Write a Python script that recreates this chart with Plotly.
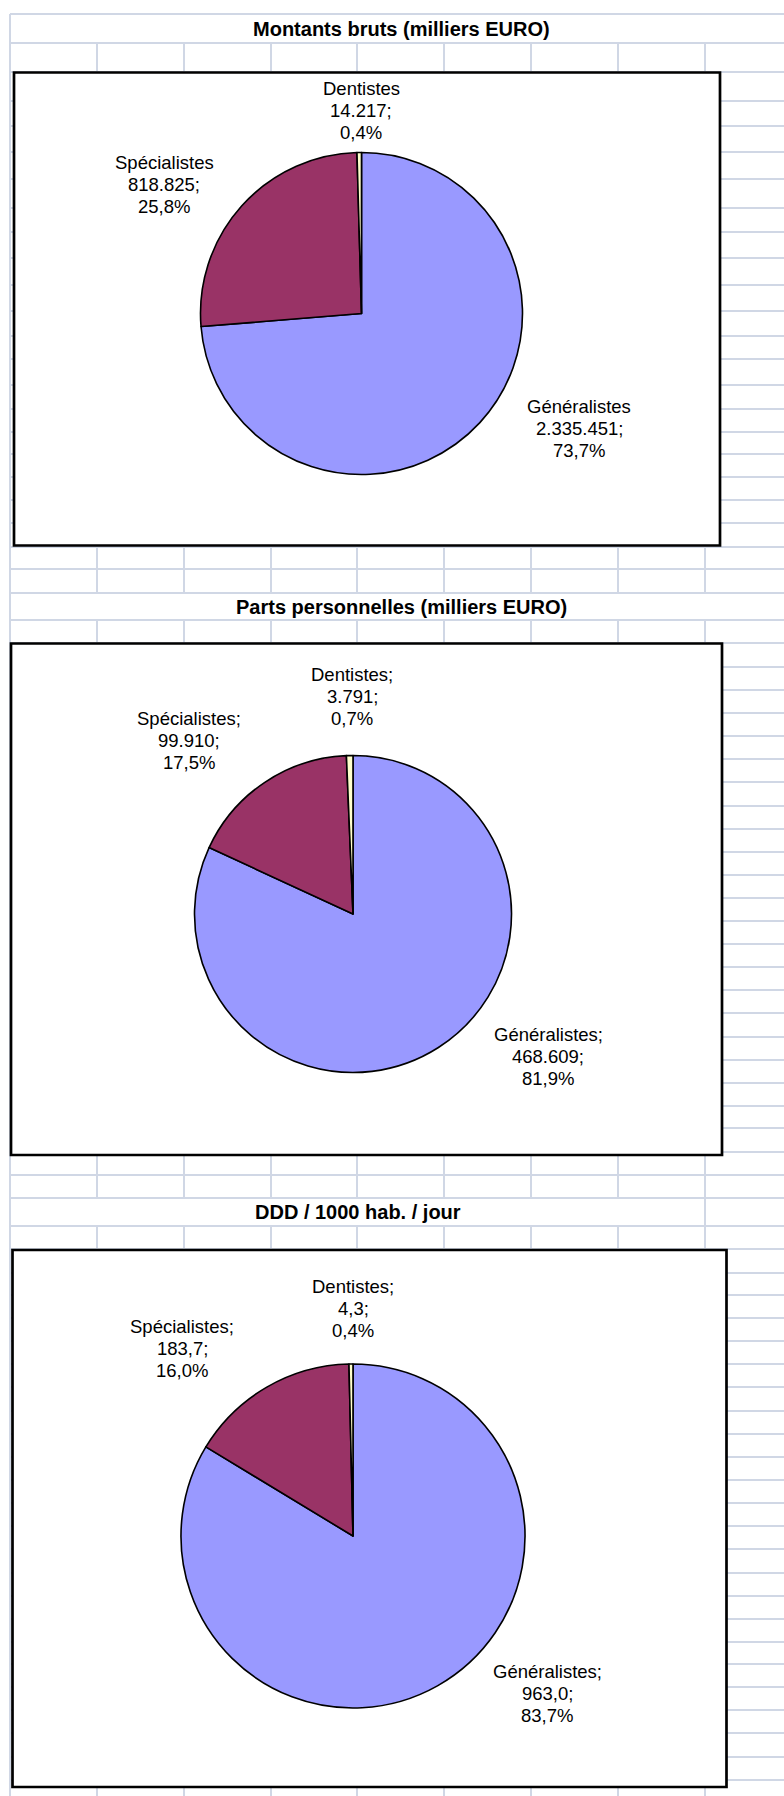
import plotly.graph_objects as go

# ---------------- data ----------------
categories = ["Généralistes", "Spécialistes", "Dentistes"]
montants_bruts = [2335451, 818825, 14217]          # milliers EURO
parts_personnelles = [468609, 99910, 3791]          # milliers EURO
ddd_1000_hab_jour = [963.0, 183.7, 4.3]             # DDD / 1000 hab. / jour
chart_titles = ["Montants bruts (milliers EURO)",
                "Parts personnelles (milliers EURO)",
                "DDD / 1000 hab. / jour"]
slice_colors = ["#9999FF", "#993366", "#FFFFCC"]

# ---------------- page geometry (pixels) ----------------
W, H = 784, 1796


def px(x):
    return x / W


def py(y):
    return 1 - y / H


def fmt_int(v):
    return f"{int(round(v)):,}".replace(",", ".")


def fmt_dec(v):
    return f"{v:.1f}".replace(".", ",")


def fmt_pct(v, total):
    return f"{100 * v / total:.1f}".replace(".", ",") + "%"


charts = [
    dict(values=montants_bruts, fmt=fmt_int, name_sep="",
         box=(14, 72.5, 720, 545.5), center=(361.5, 313.5), r=161,
         title_xy=(401, 28.5),
         label_xy=[(579, 429), (164, 185), (361, 110)]),
    dict(values=parts_personnelles, fmt=fmt_int, name_sep=";",
         box=(11, 643.5, 722, 1155), center=(353, 914), r=158.5,
         title_xy=(401, 606.5),
         label_xy=[(548, 1056), (189, 740), (352, 696)]),
    dict(values=ddd_1000_hab_jour, fmt=fmt_dec, name_sep=";",
         box=(12.5, 1250, 726.5, 1787), center=(353, 1536), r=172,
         title_xy=(357.5, 1212),
         label_xy=[(547, 1693), (182, 1348), (353, 1308)]),
]

# spreadsheet grid
grid_color = "#D0D7E5"
row_lines = [14, 43, 72, 101, 126, 152, 179, 208, 232, 258, 285, 311, 336,
             359, 385, 409, 432, 454, 477, 500, 523, 547, 569, 593, 620, 643,
             667, 690, 713, 736, 759, 782, 806, 829, 852, 875, 898, 921, 944,
             967, 990, 1013, 1037, 1060, 1083, 1106, 1128, 1152, 1175, 1198,
             1226, 1249, 1273, 1295, 1318, 1341, 1364, 1387, 1411, 1434, 1457,
             1480, 1503, 1526, 1549, 1573, 1596, 1619, 1642, 1664, 1687, 1710,
             1733, 1757, 1780]
col_lines = [97, 184, 271, 357, 444, 531, 618, 705]

shapes = []
# left border
shapes.append(dict(type="line", xref="paper", yref="paper",
                   x0=px(10), x1=px(10), y0=py(14), y1=py(H),
                   line=dict(color=grid_color, width=2), layer="below"))
for y in row_lines:
    shapes.append(dict(type="line", xref="paper", yref="paper",
                       x0=px(10), x1=px(W), y0=py(y), y1=py(y),
                       line=dict(color=grid_color, width=2), layer="below"))
for c in col_lines:
    segs = [(43, 593), (620, 1198), (1226, H)]
    if c == 705:
        segs = [(43, 593), (620, H)]
    for a, b in segs:
        shapes.append(dict(type="line", xref="paper", yref="paper",
                           x0=px(c), x1=px(c), y0=py(a), y1=py(b),
                           line=dict(color=grid_color, width=2), layer="below"))

fig = go.Figure()
annotations = []

for ch, title in zip(charts, chart_titles):
    x0, y0, x1, y1 = ch["box"]
    shapes.append(dict(type="rect", xref="paper", yref="paper",
                       x0=px(x0), x1=px(x1), y0=py(y1), y1=py(y0),
                       fillcolor="white", line=dict(color="black", width=2.7),
                       layer="below"))
    cx, cy = ch["center"]
    r = ch["r"]
    vals = ch["values"]
    fig.add_trace(go.Pie(
        labels=categories, values=vals, sort=False, direction="clockwise",
        rotation=0, textinfo="none", hoverinfo="label+value+percent",
        marker=dict(colors=slice_colors, line=dict(color="black", width=1.6)),
        domain=dict(x=[px(cx - r), px(cx + r)], y=[py(cy + r), py(cy - r)]),
        showlegend=False))
    tx, ty = ch["title_xy"]
    annotations.append(dict(text=f"<b>{title}</b>", x=px(tx), y=py(ty),
                            xref="paper", yref="paper", showarrow=False,
                            xanchor="center", yanchor="middle",
                            font=dict(family="Liberation Sans, Arial", size=20,
                                      color="black")))
    total = sum(vals)
    for cat, v, (lx, ly) in zip(categories, vals, ch["label_xy"]):
        lines = [cat + ch["name_sep"], ch["fmt"](v) + ";", fmt_pct(v, total)]
        for i, t in enumerate(lines):
            annotations.append(dict(text=t, x=px(lx), y=py(ly + (i - 1) * 22),
                                    xref="paper", yref="paper", showarrow=False,
                                    xanchor="center", yanchor="middle",
                                    font=dict(family="Liberation Sans, Arial",
                                              size=18.5, color="black")))

fig.update_layout(width=W, height=H, autosize=False,
                  margin=dict(l=0, r=0, t=0, b=0),
                  paper_bgcolor="white", plot_bgcolor="white",
                  shapes=shapes, annotations=annotations)

fig.write_html("out.html",
               config={"displayModeBar": False},
               post_script="document.body.style.margin='0';"
                           "document.body.style.overflow='hidden';")
